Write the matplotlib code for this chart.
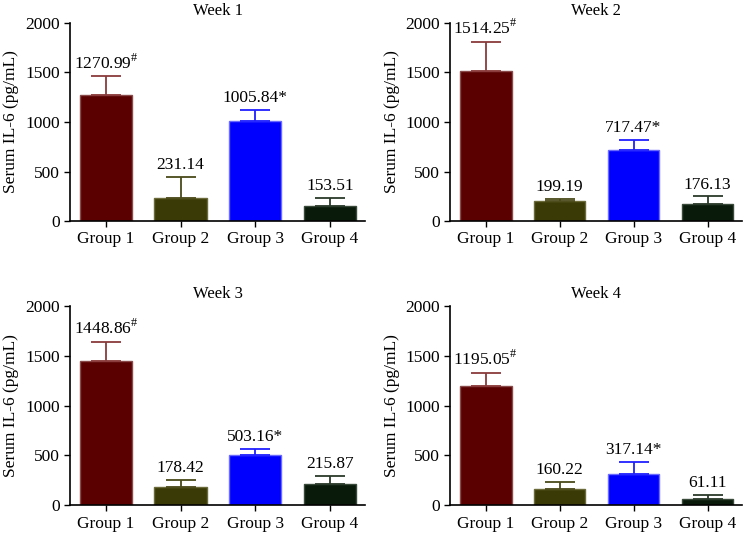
import matplotlib
matplotlib.use("Agg")
import matplotlib.pyplot as plt
import numpy as np

plt.rcParams['font.family'] = ['Liberation Serif', 'DejaVu Serif']
plt.rcParams['mathtext.fontset'] = 'custom'
plt.rcParams['mathtext.rm'] = 'Liberation Serif'

groups = ["Group 1", "Group 2", "Group 3", "Group 4"]
weeks = ["Week 1", "Week 2", "Week 3", "Week 4"]
means = {
    "Week 1": [1270.99, 231.14, 1005.84, 153.51],
    "Week 2": [1514.25, 199.19, 717.47, 176.13],
    "Week 3": [1448.86, 178.42, 503.16, 215.87],
    "Week 4": [1195.05, 160.22, 317.14, 61.11],
}
errors = {
    "Week 1": [190, 210, 120, 75],
    "Week 2": [295, 21, 98, 72],
    "Week 3": [190, 77, 57, 74],
    "Week 4": [135, 75, 113, 39],
}
marks = ["#", "", "*", ""]
y_ticks = [0, 500, 1000, 1500, 2000]

fills = ["#5a0000", "#3a3a06", "#0000ff", "#0a1a0a"]
edges = ["#8b4a4a", "#6a6a3a", "#6a6aff", "#3a4a3a"]
errc = ["#8b3a3a", "#4a4a1a", "#2020ff", "#2a3a2a"]

fig = plt.figure(figsize=(7.49, 5.34), dpi=100)
positions = [
    [0.0935, 0.586, 0.394, 0.371],
    [0.601, 0.586, 0.390, 0.371],
    [0.0935, 0.054, 0.394, 0.373],
    [0.601, 0.054, 0.390, 0.373],
]

for w, pos in zip(weeks, positions):
    ax = fig.add_axes(pos)
    x = np.arange(len(groups))
    m = means[w]
    e = errors[w]
    for i in range(len(groups)):
        ax.bar(x[i], m[i], width=0.7, color=fills[i], edgecolor=edges[i], linewidth=1.0, zorder=2)
        ax.errorbar(x[i], m[i], yerr=[[0], [e[i]]], fmt='none', ecolor=errc[i],
                    elinewidth=1.3, capsize=10.5, capthick=1.3, zorder=3)
        lab = f"{m[i]:.2f}"
        if marks[i] == "#":
            lab = lab + r"$^{\#}$"
        elif marks[i] == "*":
            lab = lab + "*"
        ax.text(x[i], m[i] + e[i] + 40, lab, ha='center', va='bottom', fontsize=12.5)
    ax.set_xlim(-0.48, 3.47)
    ax.set_ylim(0, 2000)
    ax.set_yticks(y_ticks)
    ax.set_xticks(x)
    ax.set_xticklabels(groups)
    ax.tick_params(axis='both', labelsize=12.5, direction='out', length=4, width=1)
    ax.spines['top'].set_visible(False)
    ax.spines['right'].set_visible(False)
    ax.spines['left'].set_linewidth(1.2)
    ax.spines['bottom'].set_linewidth(1.2)
    ax.set_ylabel("Serum IL-6 (pg/mL)", fontsize=12.5, labelpad=4)
    ax.set_title(w, fontsize=12, pad=6)

fig.savefig("out.png", dpi=100)
